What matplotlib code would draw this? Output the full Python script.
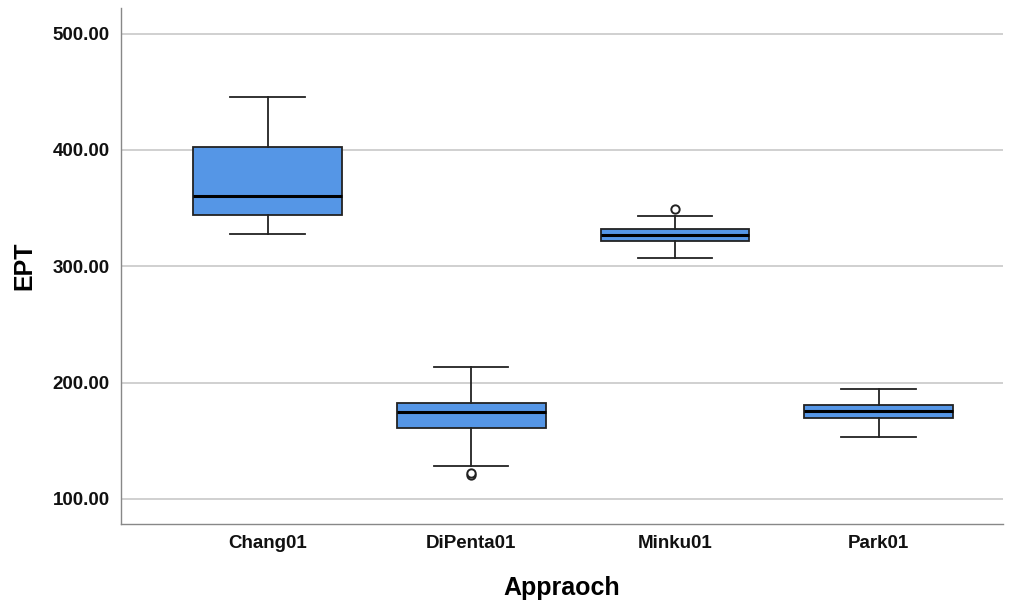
import matplotlib
matplotlib.use("Agg")
import matplotlib.pyplot as plt

# ------------------------------------------------------------
# Data
# ------------------------------------------------------------
approaches = ["Chang01", "DiPenta01", "Minku01", "Park01"]
whisker_low = [328.0, 128.4, 307.3, 153.3]
q1 = [344.3, 161.0, 322.0, 169.7]
median = [360.6, 174.8, 327.1, 175.7]
q3 = [402.8, 182.6, 332.3, 180.9]
whisker_high = [445.8, 213.5, 343.4, 194.6]
outliers = [[], [121.0, 122.0], [349.5], []]

plt.rcParams["font.family"] = ["Liberation Sans", "DejaVu Sans"]

stats = []
for i, name in enumerate(approaches):
    stats.append({
        "label": name,
        "whislo": whisker_low[i],
        "q1": q1[i],
        "med": median[i],
        "q3": q3[i],
        "whishi": whisker_high[i],
        "fliers": outliers[i],
    })

fig = plt.figure(figsize=(10.15, 6.02), dpi=100)
ax = fig.add_axes([0.1192, 0.1296, 0.8688, 0.8571])

ax.bxp(
    stats,
    positions=[1, 2, 3, 4],
    widths=0.73,
    patch_artist=True,
    boxprops=dict(facecolor="#5596e6", edgecolor="#222222", linewidth=1.3),
    medianprops=dict(color="black", linewidth=2.2),
    whiskerprops=dict(color="#222222", linewidth=1.3),
    capprops=dict(color="#222222", linewidth=1.3),
    capwidths=0.365,
    flierprops=dict(marker="o", markerfacecolor="white", markeredgecolor="#222222",
                    markersize=6, markeredgewidth=1.4),
    zorder=3,
)

ax.set_xlim(0.28, 4.61)
ax.set_ylim(78.5, 522)
ax.set_yticks([100, 200, 300, 400, 500])
ax.set_yticklabels([f"{v:.2f}" for v in [100, 200, 300, 400, 500]])
ax.yaxis.grid(True, color="#c8c8c8", linewidth=1.2, zorder=0)
ax.set_axisbelow(True)

for side in ["top", "right"]:
    ax.spines[side].set_visible(False)
for side in ["left", "bottom"]:
    ax.spines[side].set_color("#888888")
    ax.spines[side].set_linewidth(1.0)

ax.tick_params(axis="both", length=0, pad=8, labelsize=13.5, labelcolor="#111111")
for lbl in ax.get_xticklabels() + ax.get_yticklabels():
    lbl.set_fontweight("bold")

ax.set_xlabel("Appraoch", fontsize=18, fontweight="bold", labelpad=17)
ax.set_ylabel("EPT", fontsize=18, fontweight="bold", labelpad=12)

fig.savefig("out.png", dpi=100)
